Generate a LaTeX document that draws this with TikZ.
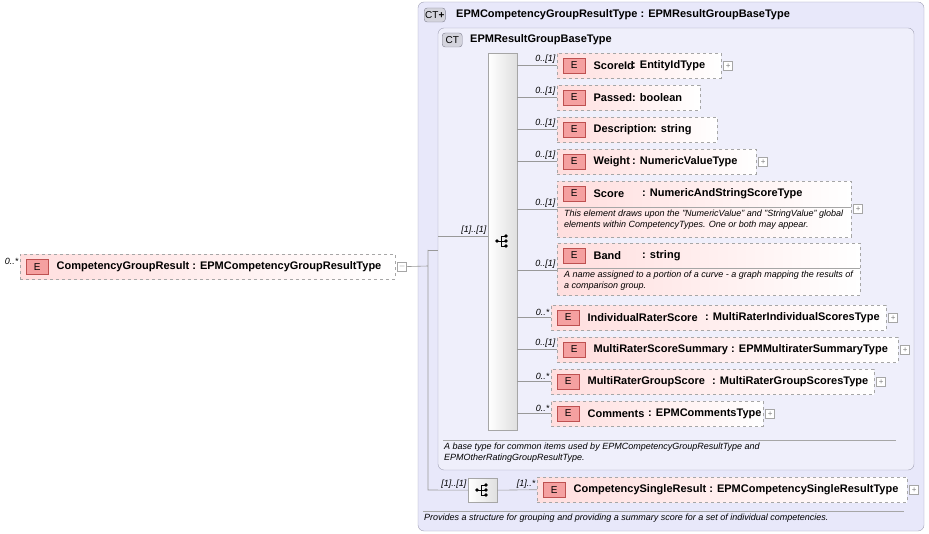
\documentclass[tikz,border=0pt]{standalone}
\usepackage{fontspec}
\setmainfont{Liberation Sans}
\usetikzlibrary{positioning}
\definecolor{ctfill}{RGB}{232,232,250}
\definecolor{ctline}{RGB}{160,160,180}
\definecolor{elpink}{RGB}{255,222,222}
\definecolor{ebadge}{RGB}{245,160,160}
\definecolor{ebord}{RGB}{190,80,80}
\tikzset{
  ctbox/.style={draw=ctline,rounded corners=6pt,fill=ctfill},
  elbox/.style={draw=gray!70,dashed,left color=elpink,right color=white},
  ebox/.style={draw=ebord,fill=ebadge,minimum width=22pt,minimum height=15pt,inner sep=0pt,font=\fontsize{10}{11}\selectfont},
  ctbadge/.style={draw=ctline!80!black,fill=ctline!45,rounded corners=3pt,minimum height=14pt,minimum width=20pt,inner sep=1pt,font=\fontsize{10}{11}\selectfont},
  lbl/.style={font=\fontsize{11}{13}\selectfont\bfseries,inner sep=0pt,anchor=west},
  card/.style={font=\fontsize{9}{10}\selectfont\itshape,inner sep=1.5pt,anchor=south east},
  doc/.style={font=\fontsize{9}{10.5}\selectfont\itshape,inner sep=0pt,anchor=north west,align=left},
  plus/.style={draw=gray!70,fill=white,minimum size=9pt,inner sep=0pt,font=\fontsize{8}{8}\selectfont,text=gray},
  conn/.style={draw=gray!80,line width=0.6pt},
  seqbar/.style={draw=gray!70,left color=white,right color=gray!25}
}
% seq icon
\newcommand{\seqicon}[1]{%
  \fill (#1)++(-6,0) circle (1.8);
  \draw (#1)++(-6,0) -- ++(4,0) (#1)++(-2,-5) -- ++(0,10)
    (#1)++(-2,-5) -- ++(4,0) (#1)++(-2,0) -- ++(4,0) (#1)++(-2,5) -- ++(4,0);
  \fill (#1)++(3,-5) circle (1.8) (#1)++(3,0) circle (1.8) (#1)++(3,5) circle (1.8);}
% element: name, left, top, right, bottom, label, type x, type, conn y
\newcommand{\elem}[9]{%
  \node[elbox,minimum width=#4-#2,minimum height=#5-#3,anchor=north west,inner sep=0pt] (#1) at (#2,#3) {};
  \node[ebox,anchor=west] (#1E) at ([xshift=6pt,yshift=-12.5pt]#1.north west) {E};
  \node[lbl] (#1N) at ([xshift=8pt]#1E.east) {#6};
  \node[lbl] (#1T) at (#7,0 |- #1N) {#8};
  \coordinate (#1C) at (#1.west |- 0,#9);
  \draw[conn] (bar.east |- #1C) -- (#1C);}
\begin{document}
\begin{tikzpicture}[x=1pt,y=-1pt]
\useasboundingbox (0,0) rectangle (929,534);
% outer complex type
\draw[ctbox] (418,2) rectangle (924,531);
\node[ctbadge,anchor=west] (ctA) at (424,15) {CT\textbf{+}};
\node[lbl] (ctAN) at (456,15) {EPMCompetencyGroupResultType : EPMResultGroupBaseType};
\draw[ctbox,fill=ctfill!70!white] (438,28) rectangle (914,470);
\node[ctbadge,anchor=west] (ctB) at (442,40) {CT};
\node[lbl] (ctBN) at (470,40) {EPMResultGroupBaseType};
\node[seqbar,minimum width=29pt,minimum height=377pt,anchor=north west,inner sep=0pt] (bar) at (488,53) {};
\coordinate (barI) at (503,241);
\seqicon{barI}
% children
\elem{sid}{557}{53}{721}{78}{ScoreId}{632}{: EntityIdType}{65}
\elem{pas}{557}{85}{700}{110}{Passed}{632}{: boolean}{97}
\elem{des}{557}{117}{717}{142}{Description}{653}{: string}{129}
\elem{wei}{557}{149}{756}{174}{Weight}{632}{: NumericValueType}{161}
\elem{sco}{557}{181}{851}{237}{Score}{642}{: NumericAndStringScoreType}{209}
\elem{ban}{557}{243}{860}{295}{Band}{642}{: string}{270}
\elem{ind}{551}{305}{886}{330}{IndividualRaterScore}{705}{: MultiRaterIndividualScoresType}{317}
\elem{msu}{557}{337}{898}{362}{MultiRaterScoreSummary}{731}{: EPMMultiraterSummaryType}{349}
\elem{mgs}{551}{369}{874}{394}{MultiRaterGroupScore}{712}{: MultiRaterGroupScoresType}{381}
\elem{com}{551}{401}{763}{426}{Comments}{648}{: EPMCommentsType}{413}
\draw[gray!70] (sco.west |- 0,207) -- (sco.east |- 0,207) (ban.west |- 0,268) -- (ban.east |- 0,268);
\node[doc] (scoD) at (564,210) {This element draws upon the "NumericValue" and "StringValue" global\\elements within CompetencyTypes. One or both may appear.};
\node[doc] (banD) at (564,271) {A name assigned to a portion of a curve - a graph mapping the results of\\a comparison group.};
\foreach \n/\c in {sid/0..[1],pas/0..[1],des/0..[1],wei/0..[1],sco/0..[1],ban/0..[1],ind/0..*,msu/0..[1],mgs/0..*,com/0..*}
  \node[card] at (\n C) {\c};
\foreach \n in {sid,wei,sco,ind,msu,mgs,com}
  \node[plus,right=2pt of \n] {+};
\draw[gray!70] (443,440) -- (896,440);
\node[doc] (baseD) at (444,443) {A base type for common items used by EPMCompetencyGroupResultType and\\EPMOtherRatingGroupResultType.};
% second sequence
\node[seqbar,minimum width=29pt,minimum height=24pt,anchor=north west,inner sep=0pt] (bar2) at (468,478) {};
\coordinate (bar2I) at (483,490);
\seqicon{bar2I}
\node[elbox,minimum width=370pt,minimum height=25pt,anchor=north west,inner sep=0pt] (csr) at (537,477) {};
\node[ebox,anchor=west] (csrE) at ([xshift=6pt]csr.west) {E};
\node[lbl] (csrN) at ([xshift=8pt]csrE.east) {CompetencySingleResult : EPMCompetencySingleResultType};
\node[plus,right=2pt of csr] {+};
\draw[conn] (bar2.east) -- (csr.west);
\node[card] at (csr.west) {[1]..*};
\draw[gray!70] (423,511) -- (904,511);
\node[doc] (outD) at (424,514) {Provides a structure for grouping and providing a summary score for a set of individual competencies.};
% root element
\node[elbox,minimum width=375pt,minimum height=25pt,anchor=north west,inner sep=0pt] (root) at (20,254) {};
\node[ebox,anchor=west] (rootE) at ([xshift=6pt]root.west) {E};
\node[lbl] (rootN) at ([xshift=8pt]rootE.east) {CompetencyGroupResult : EPMCompetencyGroupResultType};
\node[card,anchor=south east] at (root.west) {0..*};
\node[plus,right=2pt of root] (rootM) {$-$};
\coordinate (j) at (428,266);
\draw[conn] (rootM) -- (j) (428,250) -- (428,490) -- (bar2.west);
\draw[conn] (428,250) -- (438,250) (438,236) -- (bar.west |- 0,236);
\node[card] at (bar.west |- 0,236) {[1]..[1]};
\node[card] at (bar2.west) {[1]..[1]};
\end{tikzpicture}
\end{document}
